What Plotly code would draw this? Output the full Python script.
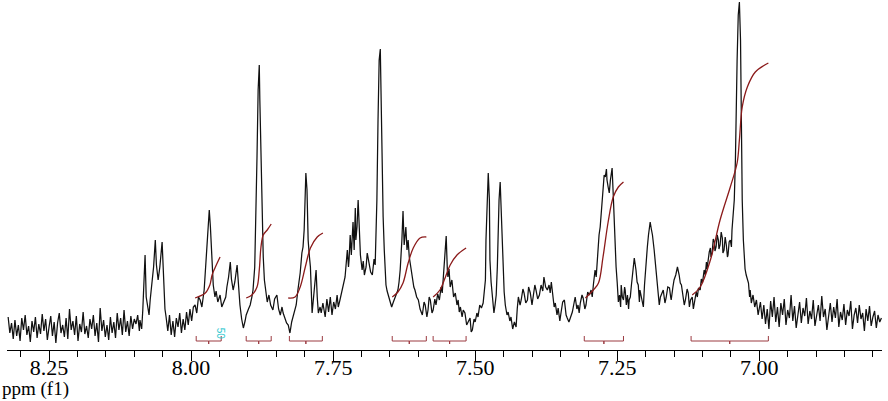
import plotly.graph_objects as go

# espectro 1H (ppm, intensidade)
spectrum = [
    (8.322, 10), (8.319, -6), (8.316, 4), (8.313, -12), (8.310, 7), (8.307, -9), (8.304, 2), (8.301, -14),
    (8.298, 9), (8.295, -3), (8.292, 12), (8.289, -8), (8.286, 1), (8.283, -15), (8.280, 6), (8.277, -5),
    (8.274, 10), (8.271, -11), (8.268, 3), (8.265, -7), (8.262, 13), (8.259, -4), (8.256, 8), (8.253, -13),
    (8.250, 0), (8.247, 11), (8.244, -9), (8.241, 5), (8.238, -16), (8.235, 4), (8.232, 14), (8.229, -6),
    (8.226, 2), (8.223, -10), (8.220, 9), (8.217, -12), (8.214, 18), (8.211, -3), (8.208, 6), (8.205, -8),
    (8.202, 11), (8.199, -14), (8.196, 3), (8.193, -5), (8.190, 15), (8.187, -7), (8.184, 1), (8.181, -11),
    (8.178, 8), (8.175, -2), (8.172, 12), (8.169, -9), (8.166, 4), (8.163, -15), (8.160, 19), (8.157, -4),
    (8.154, 7), (8.151, -10), (8.148, 2), (8.145, -13), (8.142, 10), (8.139, -6), (8.136, 5), (8.133, -11),
    (8.130, 14), (8.127, -3), (8.124, 9), (8.121, -8), (8.118, 17), (8.115, -5), (8.112, 6), (8.109, -9),
    (8.106, 11), (8.103, -2), (8.100, 8), (8.097, 3), (8.094, 12), (8.091, -4),
    (8.090, 7), (8.087, -2), (8.085, 17), (8.081, 72), (8.079, 30), (8.077, 22), (8.074, 12), (8.072, 27),
    (8.069, 42), (8.066, 60), (8.063, 87), (8.061, 62), (8.058, 47), (8.055, 60), (8.051, 85), (8.049, 55),
    (8.048, 37), (8.046, 18), (8.044, 10), (8.041, -4), (8.038, 12), (8.035, -8), (8.032, 6), (8.029, -10),
    (8.026, 9), (8.023, 0), (8.020, 14), (8.017, -6), (8.014, 8), (8.011, -3), (8.008, 15), (8.005, 2),
    (8.002, 18), (7.999, 6), (7.996, 20),
    (7.993, 22), (7.990, 14), (7.987, 30), (7.984, 27), (7.981, 20), (7.977, 37), (7.974, 67), (7.971, 95),
    (7.968, 117), (7.966, 100), (7.965, 87), (7.963, 60), (7.961, 42), (7.958, 30), (7.956, 36), (7.953, 25),
    (7.949, 32), (7.946, 20), (7.942, 26), (7.939, 30), (7.937, 40), (7.934, 50), (7.931, 65), (7.929, 48),
    (7.926, 37), (7.923, 45), (7.919, 62), (7.917, 45), (7.914, 22), (7.911, 8), (7.908, -1), (7.905, 6),
    (7.903, 12), (7.899, 18), (7.896, 22), (7.893, 30), (7.891, 37), (7.888, 60), (7.886, 107), (7.884, 170),
    (7.882, 237), (7.880, 262), (7.879, 227), (7.877, 160), (7.875, 107), (7.873, 70), (7.871, 47), (7.868, 32),
    (7.866, 25), (7.863, 32), (7.860, 22), (7.856, 17), (7.853, 28), (7.849, 32), (7.846, 18), (7.843, 12),
    (7.840, 20), (7.838, 14), (7.835, 9), (7.832, 4), (7.829, 2), (7.826, -6), (7.823, 5), (7.820, 12),
    (7.817, 18), (7.815, 22), (7.812, 37), (7.810, 45), (7.808, 54), (7.805, 74), (7.803, 80), (7.801, 97),
    (7.798, 154), (7.796, 137), (7.794, 87), (7.792, 72), (7.790, 60), (7.787, 14), (7.785, 25), (7.783, 37),
    (7.780, 57), (7.778, 30), (7.776, 14), (7.773, 20), (7.771, 14), (7.768, 24), (7.764, 10), (7.761, 28),
    (7.758, 15), (7.755, 30), (7.752, 12), (7.749, 25), (7.746, 18), (7.743, 32), (7.741, 20), (7.738, 27),
    (7.735, 35), (7.732, 42), (7.729, 50), (7.725, 77), (7.723, 60), (7.722, 67), (7.720, 92), (7.718, 72),
    (7.715, 105), (7.713, 77), (7.711, 119), (7.710, 87), (7.708, 100), (7.706, 127), (7.704, 95), (7.702, 72),
    (7.699, 57), (7.697, 66), (7.695, 52), (7.692, 60), (7.690, 74), (7.687, 62), (7.684, 55), (7.681, 52),
    (7.678, 68), (7.676, 62), (7.673, 127), (7.671, 207), (7.669, 267), (7.667, 278), (7.666, 247), (7.664, 157),
    (7.662, 110), (7.660, 77), (7.657, 42), (7.655, 36), (7.653, 32), (7.650, 27), (7.647, 20), (7.644, 25),
    (7.641, 30), (7.639, 32), (7.636, 37), (7.634, 45), (7.632, 57), (7.629, 87), (7.627, 116), (7.625, 82),
    (7.622, 100), (7.620, 77), (7.618, 87), (7.616, 70), (7.614, 62), (7.611, 47), (7.608, 40), (7.606, 37),
    (7.603, 30), (7.600, 27), (7.597, 18), (7.593, 12), (7.590, 25), (7.588, 22), (7.585, 10), (7.583, 17),
    (7.581, 30), (7.579, 27), (7.576, 14), (7.574, 17), (7.571, 28), (7.569, 22), (7.566, 33), (7.563, 27),
    (7.560, 40), (7.558, 34), (7.555, 57), (7.553, 75), (7.551, 91), (7.549, 57), (7.548, 50), (7.546, 58),
    (7.544, 40), (7.541, 47), (7.538, 30), (7.535, 34), (7.532, 22), (7.530, 27), (7.528, 15), (7.526, 20),
    (7.523, 10), (7.521, 17), (7.518, 14), (7.515, 2), (7.512, 5), (7.509, 9), (7.507, -5), (7.505, -3),
    (7.502, 8), (7.500, 5), (7.497, 14), (7.495, 10), (7.492, 22), (7.489, 19), (7.486, 24), (7.484, 35),
    (7.482, 47), (7.481, 87), (7.479, 127), (7.477, 154), (7.475, 127), (7.474, 67), (7.472, 45), (7.470, 32),
    (7.468, 20), (7.467, 14), (7.465, 22), (7.463, 32), (7.461, 60), (7.460, 87), (7.458, 127), (7.456, 145),
    (7.454, 117), (7.451, 57), (7.449, 35), (7.447, 22), (7.444, 12), (7.442, 15), (7.439, 6), (7.437, 10),
    (7.434, -2), (7.431, 5), (7.428, 0), (7.426, 18), (7.424, 30), (7.421, 22), (7.419, 27), (7.416, 38),
    (7.414, 34), (7.411, 24), (7.408, 27), (7.406, 40), (7.403, 34), (7.400, 22), (7.398, 30), (7.395, 42),
    (7.393, 37), (7.390, 28), (7.387, 32), (7.384, 42), (7.381, 36), (7.379, 50), (7.376, 40), (7.373, 37),
    (7.370, 42), (7.368, 34), (7.366, 45), (7.363, 32), (7.361, 20), (7.359, 24), (7.356, 12), (7.354, 19),
    (7.351, 6), (7.349, 14), (7.346, 25), (7.343, 27), (7.340, 12), (7.338, 9), (7.335, 5), (7.332, 10),
    (7.329, 15), (7.326, 24), (7.324, 30), (7.321, 18), (7.319, 22), (7.317, 14), (7.315, 24), (7.312, 32),
    (7.310, 29), (7.307, 18), (7.305, 22), (7.302, 35), (7.299, 32), (7.296, 37), (7.294, 30), (7.292, 42),
    (7.289, 57), (7.287, 50), (7.285, 72), (7.282, 92), (7.280, 100), (7.278, 112), (7.275, 137), (7.273, 152),
    (7.271, 150), (7.269, 158), (7.268, 147), (7.266, 140), (7.264, 134), (7.262, 147), (7.259, 159), (7.257, 132),
    (7.254, 77), (7.252, 60), (7.250, 44), (7.248, 25), (7.246, 32), (7.244, 20), (7.243, 42), (7.241, 30),
    (7.239, 27), (7.237, 40), (7.236, 37), (7.234, 22), (7.232, 32), (7.230, 18), (7.229, 27), (7.227, 30),
    (7.225, 42), (7.222, 62), (7.220, 69), (7.217, 57), (7.215, 45), (7.213, 42), (7.211, 25), (7.210, 37),
    (7.206, 27), (7.204, 20), (7.202, 42), (7.199, 72), (7.197, 80), (7.195, 92), (7.192, 105), (7.190, 98),
    (7.188, 92), (7.185, 77), (7.183, 65), (7.181, 57), (7.179, 40), (7.178, 32), (7.176, 22), (7.174, 30),
    (7.171, 35), (7.169, 37), (7.166, 24), (7.164, 29), (7.161, 40), (7.158, 39), (7.156, 30), (7.155, 27),
    (7.152, 40), (7.150, 47), (7.147, 52), (7.144, 60), (7.141, 52), (7.139, 44), (7.137, 42), (7.134, 32),
    (7.132, 22), (7.130, 27), (7.127, 38), (7.125, 34), (7.123, 20), (7.121, 27), (7.118, 30), (7.116, 18),
    (7.114, 24), (7.111, 35), (7.109, 30), (7.107, 39), (7.104, 37), (7.102, 48), (7.100, 44), (7.097, 57),
    (7.095, 52), (7.093, 65), (7.092, 58), (7.090, 69), (7.088, 75), (7.086, 79), (7.085, 70), (7.083, 74),
    (7.081, 88), (7.079, 85), (7.078, 76), (7.076, 80), (7.074, 92), (7.072, 87), (7.071, 78), (7.069, 82),
    (7.067, 95), (7.065, 89), (7.064, 74), (7.062, 77), (7.060, 90), (7.058, 82), (7.056, 70), (7.055, 72),
    (7.053, 85), (7.051, 87), (7.049, 80), (7.048, 97), (7.046, 110), (7.044, 127), (7.042, 167), (7.041, 217),
    (7.039, 267), (7.037, 312), (7.035, 325), (7.033, 287), (7.032, 197), (7.030, 127), (7.028, 87), (7.026, 67),
    (7.025, 58), (7.023, 52), (7.021, 46), (7.019, 44), (7.017, 30), (7.016, 37), (7.014, 24), (7.011, 32),
    (7.008, 20), (7.005, 27), (7.002, 12), (6.998, 25),
    (6.995, 8), (6.992, 22), (6.989, 3), (6.986, 18), (6.983, -2), (6.980, 26), (6.977, 10), (6.974, 30),
    (6.971, 5), (6.968, 20), (6.965, 0), (6.962, 24), (6.959, 12), (6.956, 28), (6.953, 2), (6.950, 17),
    (6.947, 9), (6.944, 32), (6.941, 6), (6.938, 21), (6.935, -1), (6.932, 15), (6.929, 25), (6.926, 4),
    (6.923, 19), (6.920, 11), (6.917, 29), (6.914, 3), (6.911, 16), (6.908, 8), (6.905, 27), (6.902, 1),
    (6.899, 14), (6.896, 22), (6.893, 6), (6.890, 31), (6.887, 10), (6.884, 18), (6.881, -3), (6.878, 13),
    (6.875, 24), (6.872, 5), (6.869, 20), (6.866, 9), (6.863, 28), (6.860, 0), (6.857, 15), (6.854, 7),
    (6.851, 23), (6.848, 2), (6.845, 17), (6.842, 11), (6.839, 26), (6.836, -2), (6.833, 12), (6.830, 19),
    (6.827, 4), (6.824, 22), (6.821, 8), (6.818, 14), (6.815, -4), (6.812, 18), (6.809, 6), (6.806, 21),
    (6.803, 1), (6.800, 10), (6.797, 16), (6.794, -1), (6.791, 12), (6.788, 5), (6.785, 9),
]

# curvas de integral (ppm, altura)
integrals = [
    [(7.993, 29), (7.975, 34), (7.967, 42), (7.963, 52), (7.958, 59), (7.949, 70)],
    [(7.903, 29), (7.893, 32), (7.884, 40), (7.880, 57), (7.877, 80), (7.873, 92), (7.866, 97), (7.859, 103)],
    [(7.829, 29), (7.817, 30), (7.808, 40), (7.799, 60), (7.790, 79), (7.778, 90), (7.768, 94)],
    [(7.646, 30), (7.636, 35), (7.627, 44), (7.618, 64), (7.609, 79), (7.597, 89), (7.586, 90)],
    [(7.574, 30), (7.562, 37), (7.553, 49), (7.544, 62), (7.532, 72), (7.516, 79)],
    [(7.306, 29), (7.292, 37), (7.283, 44), (7.275, 70), (7.266, 105), (7.257, 130), (7.248, 140), (7.239, 145)],
    [(7.118, 32), (7.104, 40), (7.086, 67), (7.069, 107), (7.051, 140), (7.039, 164), (7.035, 187),
     (7.030, 220), (7.021, 240), (7.007, 255), (6.984, 264)],
]

# faixas de integracao (inicio, fim)
ranges_start = [7.991, 7.903, 7.827, 7.646, 7.574, 7.308, 7.120]
ranges_end = [7.947, 7.859, 7.769, 7.586, 7.516, 7.239, 6.984]

tick_values = [8.25, 8.00, 7.75, 7.50, 7.25, 7.00]
tick_labels = ["8.25", "8.00", "7.75", "7.50", "7.25", "7.00"]

serif = "Times New Roman, Liberation Serif, serif"

fig = go.Figure()

# espectro
fig.add_trace(go.Scatter(x=[p for p, v in spectrum], y=[v for p, v in spectrum], mode="lines",
                         line=dict(color="#111111", width=1.25), hoverinfo="skip"))

# integrais
for curve in integrals:
    fig.add_trace(go.Scatter(x=[p for p, v in curve], y=[v for p, v in curve], mode="lines",
                             line=dict(color="#8b1a1a", width=1.3, shape="spline")))

# colchetes das integrais
bx = []
by = []
for a, b in zip(ranges_start, ranges_end):
    m = (a + b) / 2
    bx += [a, a, m, m, m, b, b, None]
    by += [-9, -14, -14, -17, -14, -14, -9, None]
fig.add_trace(go.Scatter(x=bx, y=by, mode="lines", line=dict(color="#9b3a40", width=1)))

fig.add_annotation(x=7.947, y=-7, text="50", showarrow=False, textangle=90,
                   font=dict(family="Liberation Sans", size=10, color="#30c8d0"))
fig.add_annotation(xref="paper", yref="paper", x=-0.007, y=-0.112, xanchor="left", yanchor="middle",
                   text="ppm (f1)", showarrow=False, borderpad=0,
                   font=dict(family=serif, size=19, color="black"))

fig.update_layout(
    width=888, height=401, showlegend=False,
    margin=dict(l=7, r=6, t=0, b=51),
    plot_bgcolor="white", paper_bgcolor="white",
    xaxis=dict(range=[8.324, 6.784], showgrid=False, zeroline=False, showline=True,
               linecolor="black", linewidth=1, ticks="outside", ticklen=10, tickcolor="black",
               tickvals=tick_values, ticktext=tick_labels, ticklabelstandoff=-12,
               tickfont=dict(family=serif, size=22, color="black"),
               minor=dict(dtick=0.05, tick0=7.0, ticks="outside", ticklen=6, tickcolor="black",
                          showgrid=False)),
    yaxis=dict(range=[-23, 327], visible=False),
)

fig.write_html("out.html", config={"displayModeBar": False},
               post_script="document.body.style.margin='0px';")
